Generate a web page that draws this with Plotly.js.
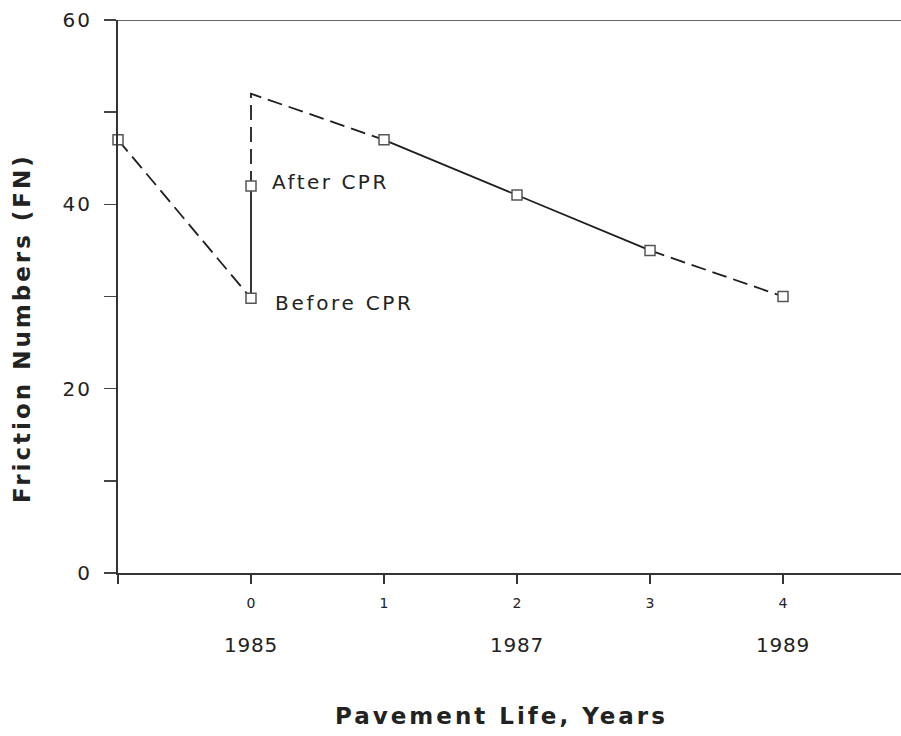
<!DOCTYPE html>
<html>
<head>
<meta charset="utf-8">
<script src="https://cdn.plot.ly/plotly-3.0.1.min.js"></script>
<style>
  html, body { margin: 0; padding: 0; background: #fff; }
  #chart { width: 901px; height: 736px; }
</style>
</head>
<body>
<div id="chart"></div>
<script>
// ---- data ----
const lifeYears   = [-1, 0, 0, 1, 2, 3, 4];          // pavement life (years)
const frictionFN  = [47, 29.8, 42, 47, 41, 35, 30];   // friction numbers
const projLife    = [0];                              // projected peak just after CPR
const projFN      = [52];
const xTickVals   = [-1, 0, 1, 2, 3, 4];
const xTickText   = ['', '0', '1', '2', '3', '4'];
const calYearPos  = [0, 2, 4];
const calYears    = ['1985', '1987', '1989'];
const yTickVals   = [0, 10, 20, 30, 40, 50, 60];
const yTickText   = ['0', '', '20', '', '40', '', '60'];
const labelAfter  = 'After CPR';
const labelBefore = 'Before CPR';
const xTitle      = 'Pavement Life, Years';
const yTitle      = 'Friction Numbers (FN)';

const LINE = '#1e1e1e';
const DASH = '15px,7px';
const FONT = 'DejaVu Sans, sans-serif';

function seg(idx) {
  return { x: idx.map(i => lifeYears[i]), y: idx.map(i => frictionFN[i]) };
}
function spaced(t, px) {
  return t === '' ? '' : '<span style="letter-spacing:' + px + 'px">' + t + '</span>';
}

const s1 = seg([0, 1]);
const s2 = seg([1, 2]);
const s3 = { x: [lifeYears[2], projLife[0], lifeYears[3]], y: [frictionFN[2], projFN[0], frictionFN[3]] };
const s4 = seg([3, 4, 5]);
const s5 = seg([5, 6]);

function lineTrace(s, dash) {
  return { type: 'scatter', mode: 'lines', x: s.x, y: s.y, cliponaxis: false,
    line: { color: LINE, width: 1.8, dash: dash }, hoverinfo: 'skip', showlegend: false };
}

const traces = [
  lineTrace(s1, DASH),
  lineTrace(s2, 'solid'),
  lineTrace(s3, DASH),
  lineTrace(s4, 'solid'),
  lineTrace(s5, DASH),
  { type: 'scatter', mode: 'markers', x: lifeYears, y: frictionFN, cliponaxis: false,
    marker: { symbol: 'square', size: 10, color: '#ffffff', line: { color: '#555', width: 1.5 } },
    showlegend: false }
];

const annotations = [
  { x: lifeYears[2], y: frictionFN[2], xref: 'x', yref: 'y', text: spaced(labelAfter, 2.5),
    showarrow: false, xanchor: 'left', yanchor: 'middle', xshift: 19, yshift: 4,
    font: { family: FONT, size: 20, color: '#222' } },
  { x: lifeYears[1], y: frictionFN[1], xref: 'x', yref: 'y', text: spaced(labelBefore, 2.7),
    showarrow: false, xanchor: 'left', yanchor: 'middle', xshift: 22, yshift: -5,
    font: { family: FONT, size: 20, color: '#222' } },
  { x: 0.4904, y: 0, xref: 'paper', yref: 'paper', yshift: -143, xanchor: 'center', yanchor: 'middle',
    text: spaced('<b>' + xTitle + '</b>', 3), showarrow: false,
    font: { family: FONT, size: 23, color: '#222' } },
  { x: 0, y: 0.443, xref: 'paper', yref: 'paper', xshift: -96, xanchor: 'center', yanchor: 'middle', textangle: -90,
    text: spaced('<b>' + yTitle + '</b>', 3), showarrow: false,
    font: { family: FONT, size: 23, color: '#222' } }
];
calYears.forEach((t, i) => {
  annotations.push({ x: calYearPos[i], y: 0, xref: 'x', yref: 'paper', yshift: -72, xanchor: 'center', yanchor: 'middle',
    text: spaced(t, 0.8), showarrow: false,
    font: { family: FONT, size: 20, color: '#222' } });
});

const layout = {
  width: 901, height: 736,
  margin: { l: 118, r: 0, t: 20, b: 163 },
  paper_bgcolor: '#fff', plot_bgcolor: '#fff',
  showlegend: false,
  font: { family: FONT, color: '#222' },
  xaxis: {
    range: [-1, 4.887], showgrid: false, zeroline: false,
    showline: true, linecolor: '#333', linewidth: 2,
    ticks: 'outside', ticklen: 9, tickwidth: 1.5, tickcolor: '#333',
    tickmode: 'array', tickvals: xTickVals, ticktext: xTickText,
    tickfont: { family: FONT, size: 14, color: '#222' }, ticklabelstandoff: 7
  },
  yaxis: {
    range: [0, 60], showgrid: false, zeroline: false,
    showline: true, linecolor: '#333', linewidth: 2,
    ticks: 'outside', ticklen: 12, tickwidth: 1.5, tickcolor: '#444',
    tickmode: 'array', tickvals: yTickVals, ticktext: yTickText.map(t => spaced(t, 2)),
    tickfont: { family: FONT, size: 20, color: '#222' }, ticklabelstandoff: 8
  },
  shapes: [
    { type: 'line', xref: 'paper', yref: 'y', x0: 0, x1: 1, y0: 60, y1: 60,
      line: { color: '#666', width: 2 } }
  ],
  annotations: annotations
};

Plotly.newPlot('chart', traces, layout, { displayModeBar: false, staticPlot: true });
</script>
</body>
</html>
